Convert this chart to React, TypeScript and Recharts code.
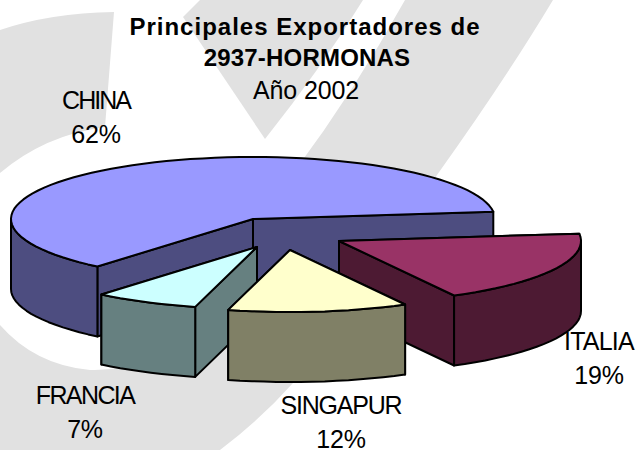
import React from "react";
import { PieChart, Pie, Customized } from "recharts";

const categories = ["CHINA", "ITALIA", "SINGAPUR", "FRANCIA"];
const shares = [62, 19, 12, 7];
const topColors = ["#9999FF", "#993366", "#FFFFCC", "#CCFFFF"];
const sideColors = ["#4D4D80", "#4D1A33", "#808066", "#668080"];
const titleLines = ["Principales Exportadores de", "2937-HORMONAS"];
const subtitle = "Año 2002";

const explodeX = [0, 86, 37, 4];
const explodeY = [0, 22, 31, 28];
const labelX = [96, 599, 341, 85];
const labelY = [100, 341, 405, 395];
const labelSpacing = [-2, -0.8, -1.2, -1.6];

const data = categories.map((name, i) => ({ name, value: shares[i] }));

const FLAT = 62 / 242;
const DEPTH = 70;
const WIDTH = 637;
const HEIGHT = 450;
const FONT = "'Liberation Sans', Arial, sans-serif";

function pt(cx: number, cy: number, r: number, deg: number) {
  const a = (deg * Math.PI) / 180;
  return [cx + r * Math.cos(a), cy - r * FLAT * Math.sin(a)];
}

function arcPoints(cx: number, cy: number, r: number, from: number, to: number) {
  const out: number[][] = [];
  const n = Math.max(2, Math.ceil(Math.abs(to - from) / 3));
  for (let i = 0; i <= n; i++) out.push(pt(cx, cy, r, from + ((to - from) * i) / n));
  return out;
}

const toPath = (p: number[][]) =>
  "M" + p.map((q) => q[0].toFixed(1) + "," + q[1].toFixed(1)).join("L") + "Z";

function Slice(props: any) {
  const { cx, cy, outerRadius: r, startAngle, endAngle, name, payload } = props;
  const label = name ?? payload?.name;
  const i = categories.indexOf(label);
  const x0 = cx + explodeX[i];
  const y0 = cy + explodeY[i];
  const hi = Math.max(startAngle, endAngle);
  const lo = Math.min(startAngle, endAngle);
  const top = arcPoints(x0, y0, r, hi, lo);
  const stroke = { stroke: "#000", strokeWidth: 2, strokeLinejoin: "round" as const };
  const side = sideColors[i];
  const cut = (deg: number) => {
    const p = pt(x0, y0, r, deg);
    return toPath([[x0, y0], p, [p[0], p[1] + DEPTH], [x0, y0 + DEPTH]]);
  };
  // the cut face that reaches further back is painted first
  const faces = [hi, lo].sort((a, b) => pt(x0, y0, r, a)[1] - pt(x0, y0, r, b)[1]);
  const walls: React.ReactNode[] = [];
  for (const k of [-1, 0, 1]) {
    const a = Math.max(lo, 180 + 360 * k);
    const b = Math.min(hi, 360 + 360 * k);
    if (b > a) {
      const rim = arcPoints(x0, y0, r, a, b);
      const lower = rim.map((q) => [q[0], q[1] + DEPTH]).reverse();
      walls.push(<path key={k} d={toPath([...rim, ...lower])} fill={side} {...stroke} />);
    }
  }
  return (
    <g>
      <path d={cut(faces[0])} fill={side} {...stroke} />
      <path d={cut(faces[1])} fill={side} {...stroke} />
      {walls}
      <path d={toPath([[x0, y0], ...top])} fill={topColors[i]} {...stroke} />
    </g>
  );
}

// Singapur sits in front of its neighbours, so it is drawn by a last pie.
const FRONT = "SINGAPUR";
const BackSlice = (p: any) => ((p.name ?? p.payload?.name) === FRONT ? <g /> : <Slice {...p} />);
const FrontSlice = (p: any) => ((p.name ?? p.payload?.name) === FRONT ? <Slice {...p} /> : <g />);

function Texts() {
  const t = { fontFamily: FONT, fill: "#000", textAnchor: "middle" as const };
  return (
    <g>
      <text x={305} y={35} fontSize={24} fontWeight="bold" letterSpacing={1} {...t}>{titleLines[0]}</text>
      <text x={307} y={66} fontSize={24} fontWeight="bold" letterSpacing={0.2} {...t}>{titleLines[1]}</text>
      <text x={306} y={99} fontSize={25} letterSpacing={-0.1} {...t}>{subtitle}</text>
      {categories.map((c, i) => (
        <g key={c}>
          <text x={labelX[i]} y={labelY[i] + 9} fontSize={25} letterSpacing={labelSpacing[i]} {...t}>{c}</text>
          <text x={labelX[i]} y={labelY[i] + 43} fontSize={25} letterSpacing={-0.2} {...t}>{shares[i] + "%"}</text>
        </g>
      ))}
    </g>
  );
}

function Backdrop() {
  return (
    <svg width={WIDTH} height={HEIGHT} style={{ position: "absolute", left: 0, top: 0 }}>
      <g fill="#E1E1E1">
        <path d="M114,12 Q50,13 0,30 L0,173 Q45,135 105,127 Z" />
        <path d="M200,0 L183,17 L265,139 Q320,70 363,0 Z" />
        <path d="M405,0 Q355,90 294,172 L200,325 Q150,372 90,370 Q35,365 0,325 L0,450 L220,450 Q260,420 293,383 Q370,290 437,175 Q505,80 553,0 Z" />
      </g>
    </svg>
  );
}

export default function App() {
  return (
    <div style={{ position: "absolute", left: 0, top: 0, width: WIDTH, height: HEIGHT, background: "#fff" }}>
      <Backdrop />
      <div style={{ position: "absolute", left: 0, top: 0 }}>
        <PieChart width={WIDTH} height={HEIGHT} margin={{ top: 0, right: 0, bottom: 0, left: 0 }}>
          <Pie data={data} dataKey="value" nameKey="name" cx={253} cy={219} outerRadius={242} startAngle={230} endAngle={-130} stroke="none" shape={BackSlice} isAnimationActive={false} />
          <Pie data={data} dataKey="value" nameKey="name" cx={253} cy={219} outerRadius={242} startAngle={230} endAngle={-130} stroke="none" shape={FrontSlice} isAnimationActive={false} />
          <Customized component={Texts} />
        </PieChart>
      </div>
    </div>
  );
}
